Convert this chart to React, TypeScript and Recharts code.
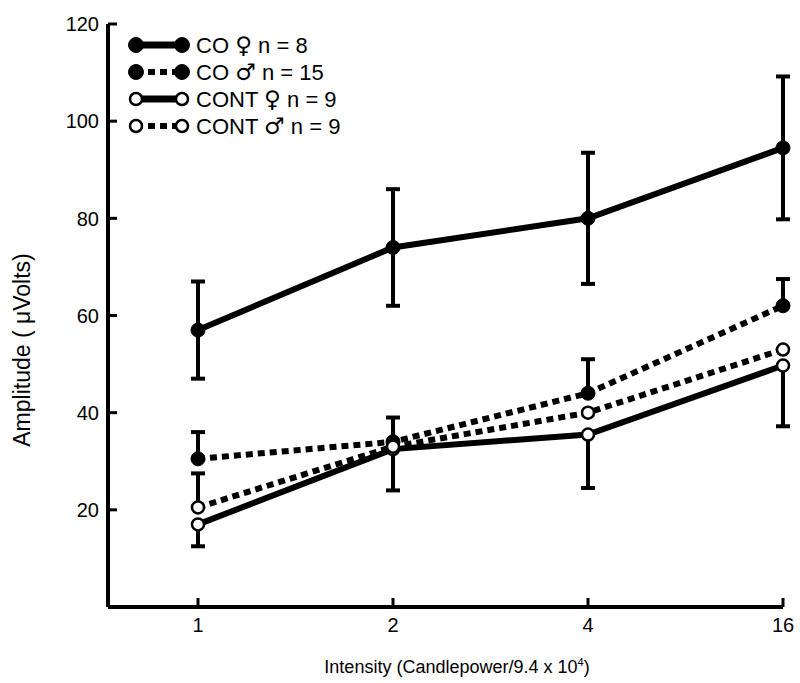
import React from 'react'
import { LineChart, Line, XAxis, YAxis, ErrorBar } from 'recharts'

const intensities = ['1', '2', '4', '16']
const coFemale = [57, 74, 80, 94.5]
const coFemaleErr = [10, 12, 13.5, 14.7]
const coMale = [30.5, 34, 44, 62]
const coMaleErrUp = [5.5, 5, 7, 5.5]
const contFemale = [17, 32.5, 35.5, 49.7]
const contFemaleErrDown = [4.5, 8.5, 11, 12.5]
const contMale = [20.5, 33, 40, 53]
const contMaleErrUp = [7, null, null, null]
const yTicks = [20, 40, 60, 80, 100, 120]

const legendItems = [
  { name: 'CO', sex: '\u2640', n: 8, filled: true, dotted: false },
  { name: 'CO', sex: '\u2642', n: 15, filled: true, dotted: true },
  { name: 'CONT', sex: '\u2640', n: 9, filled: false, dotted: false },
  { name: 'CONT', sex: '\u2642', n: 9, filled: false, dotted: true },
]

const FONT = '"Liberation Sans", Arial, sans-serif'

const data = intensities.map((name, i) => ({
  name,
  coF: coFemale[i],
  coFErr: [coFemaleErr[i], coFemaleErr[i]],
  coM: coMale[i],
  coMErr: [0, coMaleErrUp[i]],
  contF: contFemale[i],
  contFErr: [contFemaleErrDown[i], 0],
  contM: contMale[i],
  contMErr: contMaleErrUp[i] == null ? null : [0, contMaleErrUp[i]],
}))

// tick marks point inward, so draw line + label ourselves
const YTick = (props: any) => {
  const { x, y, payload } = props
  return (
    <g>
      <line x1={x} x2={x + 9} y1={y} y2={y} stroke="#000" strokeWidth={3} />
      <text x={x - 9} y={y} dy="0.36em" textAnchor="end" fontSize={20} fontFamily={FONT} fill="#000">
        {payload.value}
      </text>
    </g>
  )
}

const XTick = (props: any) => {
  const { x, y, payload } = props
  return (
    <g>
      <line x1={x} x2={x} y1={y} y2={y - 9} stroke="#000" strokeWidth={3} />
      <text x={x} y={y + 25} textAnchor="middle" fontSize={20} fontFamily={FONT} fill="#000">
        {payload.value}
      </text>
    </g>
  )
}

// dots inherit the line's dash pattern unless told otherwise
const filledDot = { r: 7, fill: '#000', stroke: '#000', strokeWidth: 1, strokeDasharray: 'none' }
const openDot = { r: 6, fill: '#fff', stroke: '#000', strokeWidth: 2.5, strokeDasharray: 'none' }
const bar = { direction: 'y' as const, width: 7, stroke: '#000', strokeWidth: 4 }

function Overlay() {
  return (
    <svg width={800} height={683} style={{ position: 'absolute', left: 0, top: 0, pointerEvents: 'none' }}>
      {legendItems.map((item, i) => {
        const cy = 45 + i * 27
        const x1 = 136
        const x2 = 182
        return (
          <g key={i}>
            <line
              x1={x1}
              x2={x2}
              y1={cy}
              y2={cy}
              stroke="#000"
              strokeWidth={item.dotted ? 6 : 7}
              strokeDasharray={item.dotted ? '7 5' : undefined}
            />
            {[x1, x2].map((cx) => (
              <circle
                key={cx}
                cx={cx}
                cy={cy}
                r={item.filled ? 7.5 : 6}
                fill={item.filled ? '#000' : '#fff'}
                stroke="#000"
                strokeWidth={item.filled ? 1 : 2.5}
              />
            ))}
            <text x={196} y={cy} dy="0.36em" fontSize={22} fontFamily={FONT} fill="#000">
              {item.name}{' '}
              <tspan fontFamily='"DejaVu Sans"' fontSize={23}>{item.sex}</tspan>
              {' '}n = {item.n}
            </text>
          </g>
        )
      })}
      <text
        transform="translate(30, 350) rotate(-90)"
        textAnchor="middle"
        fontSize={23}
        fontFamily={FONT}
        fill="#000"
      >
        Amplitude ( {'\u03bc'}Volts)
      </text>
      <text x={457} y={673} textAnchor="middle" fontSize={18} fontFamily={FONT} fill="#000">
        Intensity (Candlepower/9.4 x 10<tspan dy={-7} fontSize={11}>4</tspan><tspan dy={7}>)</tspan>
      </text>
    </svg>
  )
}

export default function App() {
  return (
    <div style={{ position: 'absolute', left: 0, top: 0, width: 800, height: 683, background: '#fff' }}>
      <LineChart width={800} height={683} data={data} margin={{ top: 24, right: 17, bottom: 0, left: 0 }}>
        <XAxis
          dataKey="name"
          padding={{ left: 90, right: 0 }}
          height={76}
          tickSize={0}
          tickMargin={0}
          tick={<XTick />}
          tickLine={false}
          axisLine={{ stroke: '#000', strokeWidth: 4 }}
        />
        <YAxis
          type="number"
          domain={[0, 120]}
          ticks={yTicks}
          width={108}
          tickSize={0}
          tickMargin={0}
          tick={<YTick />}
          tickLine={false}
          axisLine={{ stroke: '#000', strokeWidth: 4 }}
        />
        {/* hidden carriers for the error bars, drawn first so the markers cover the bar ends */}
        <Line dataKey="coF" stroke="none" dot={false} activeDot={false} isAnimationActive={false}>
          <ErrorBar dataKey="coFErr" {...bar} />
        </Line>
        <Line dataKey="coM" stroke="none" dot={false} activeDot={false} isAnimationActive={false}>
          <ErrorBar dataKey="coMErr" {...bar} />
        </Line>
        <Line dataKey="contF" stroke="none" dot={false} activeDot={false} isAnimationActive={false}>
          <ErrorBar dataKey="contFErr" {...bar} />
        </Line>
        <Line dataKey="contM" stroke="none" dot={false} activeDot={false} isAnimationActive={false}>
          <ErrorBar dataKey="contMErr" {...bar} />
        </Line>
        <Line dataKey="coF" stroke="#000" strokeWidth={6} dot={filledDot} isAnimationActive={false} />
        <Line dataKey="coM" stroke="#000" strokeWidth={6} strokeDasharray="7 5" dot={filledDot} isAnimationActive={false} />
        <Line dataKey="contF" stroke="#000" strokeWidth={6} dot={openDot} isAnimationActive={false} />
        <Line dataKey="contM" stroke="#000" strokeWidth={6} strokeDasharray="7 5" dot={openDot} isAnimationActive={false} />
      </LineChart>
      <Overlay />
    </div>
  )
}
